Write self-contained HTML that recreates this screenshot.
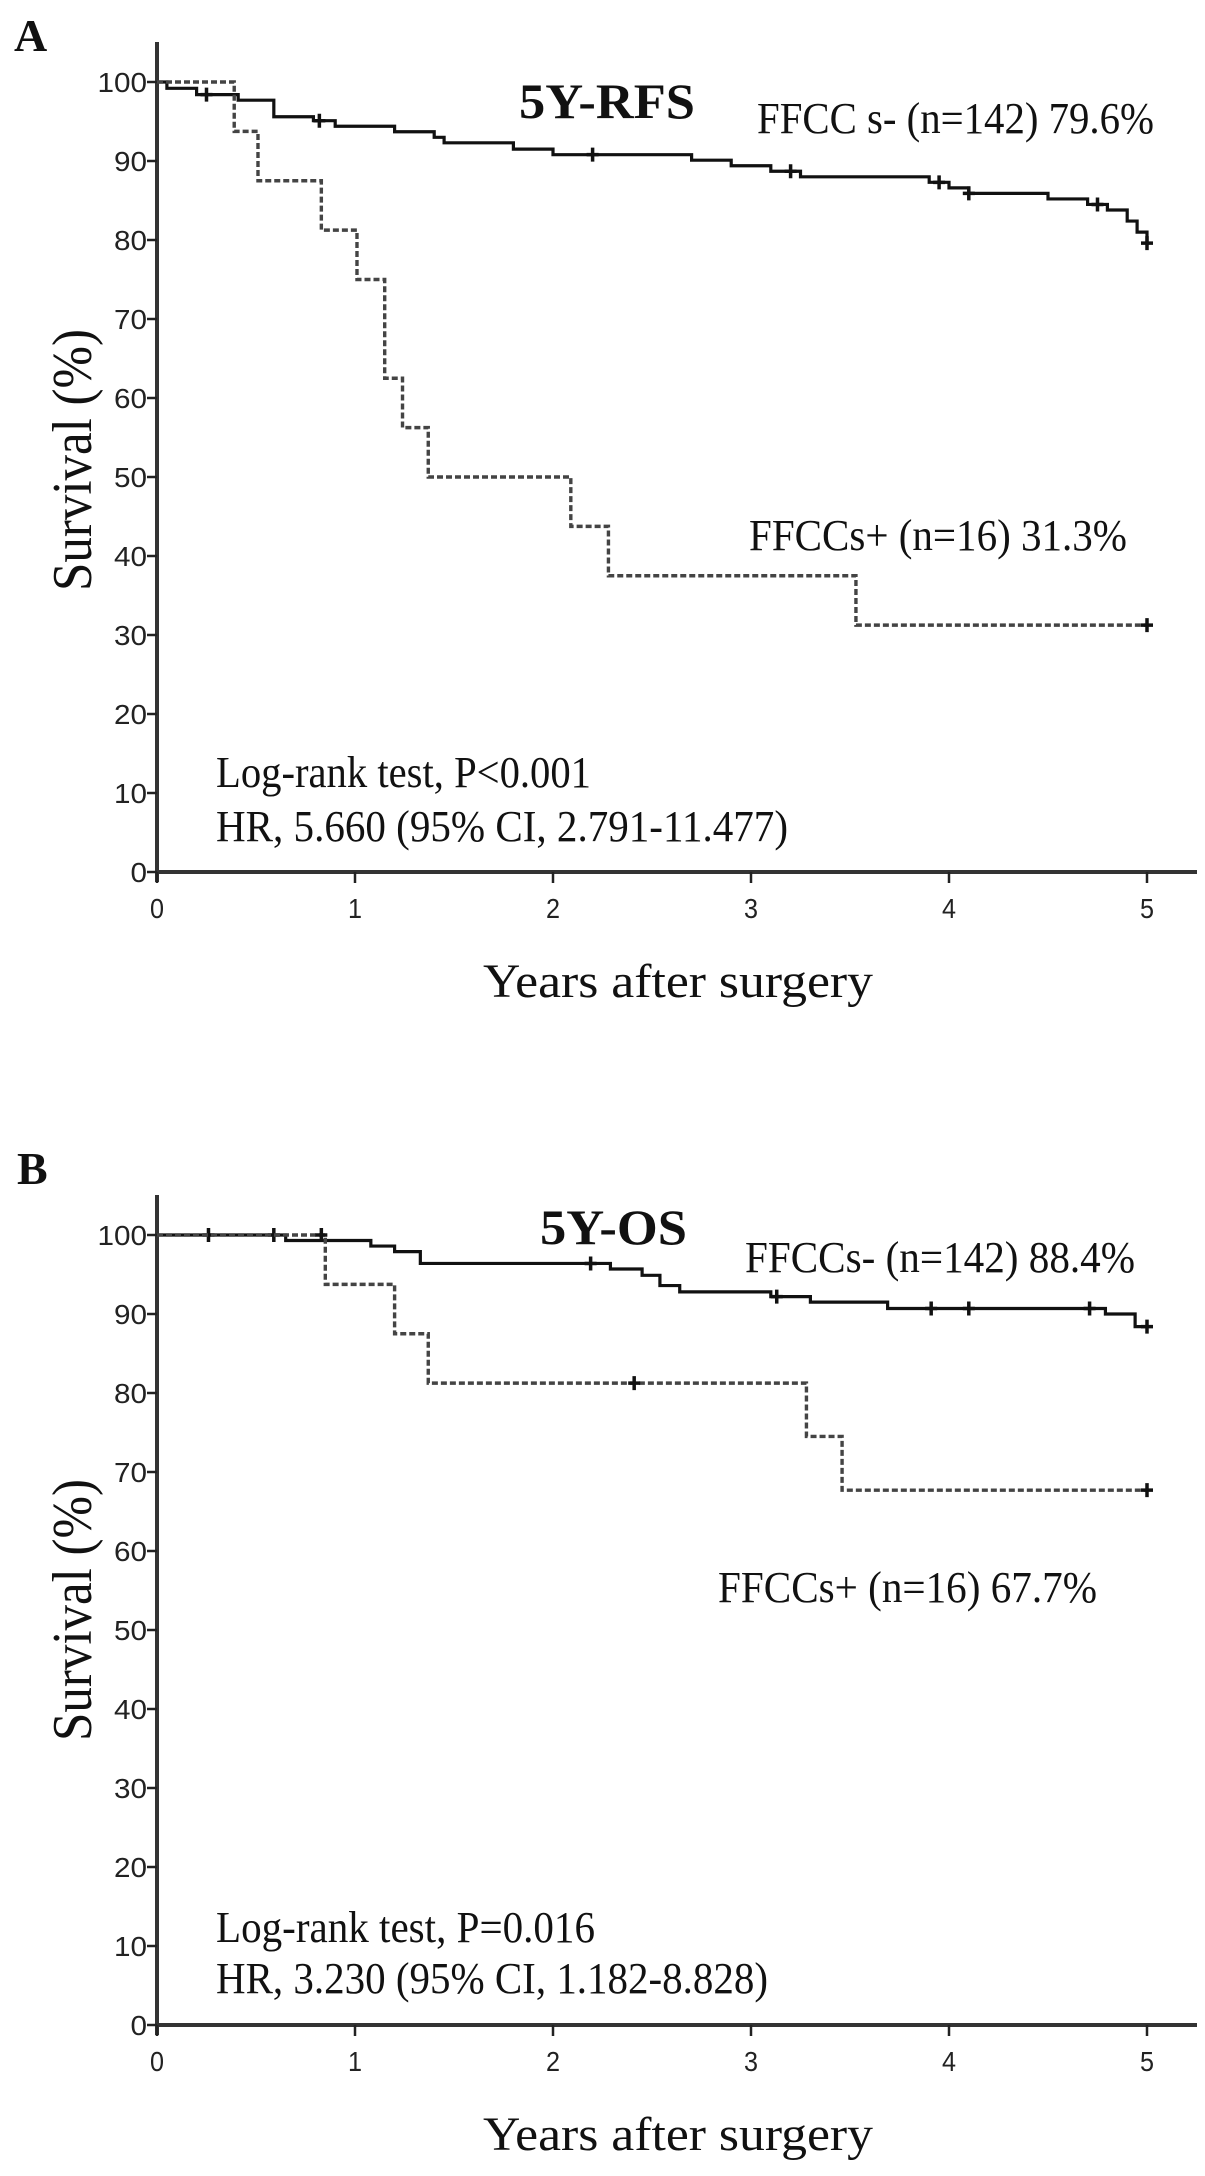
<!DOCTYPE html>
<html><head><meta charset="utf-8"><style>
html,body{margin:0;padding:0;background:#fff;}
svg{display:block;}
</style></head><body>
<svg id="fig" width="1205" height="2176" viewBox="0 0 1205 2176" xmlns="http://www.w3.org/2000/svg" font-family="'Liberation Serif', serif"></svg>
<script>
// Panel A data (RFS)
const xTicks = [0,1,2,3,4,5];
const yTicks = [0,10,20,30,40,50,60,70,80,90,100];
const aNegTimes = [0,0.05,0.2,0.41,0.59,0.79,0.9,1.2,1.4,1.45,1.8,2.0,2.7,2.9,3.1,3.25,3.9,4.0,4.1,4.5,4.7,4.8,4.9,4.95,5.0];
const aNegSurv  = [100,99.2,98.4,97.7,95.6,95.1,94.4,93.7,93.0,92.3,91.5,90.8,90.1,89.4,88.7,88.0,87.3,86.6,85.9,85.2,84.5,83.8,82.4,81.0,79.6];
const aNegCensor = [0.25,0.82,2.2,3.2,3.95,4.1,4.75,5.0];
const aPosTimes = [0,0.39,0.51,0.83,1.01,1.15,1.24,1.37,2.09,2.28,3.53,5.0];
const aPosSurv  = [100,93.75,87.5,81.25,75,62.5,56.25,50,43.75,37.5,31.25,31.25];
const aPosCensor = [5.0];
// Panel B data (OS)
const bNegTimes = [0,0.65,1.08,1.2,1.33,2.29,2.45,2.54,2.64,3.1,3.3,3.69,4.79,4.94,5.0];
const bNegSurv  = [100,99.3,98.6,97.9,96.4,95.7,94.9,93.6,92.8,92.2,91.5,90.7,90.0,88.4,88.4];
const bNegCensor = [0.26,0.59,2.19,3.13,3.91,4.1,4.71,5.0];
const bPosTimes = [0,0.85,1.2,1.37,3.28,3.46,5.0];
const bPosSurv  = [100,93.75,87.5,81.25,74.5,67.7,67.7];
const bPosCensor = [0.83,2.41,5.0];

const NS='http://www.w3.org/2000/svg';
const svg=document.getElementById('fig');
function mk(tag,attrs,parent){const e=document.createElementNS(NS,tag);for(const k in attrs)e.setAttribute(k,attrs[k]);(parent||svg).appendChild(e);return e;}
function txt(s,attrs,parent){const e=mk('text',attrs,parent);e.textContent=s;return e;}

function panel(cfg){
  const g=mk('g',{});
  
  
  const X0=157,X5=1147,Y0=cfg.y0,Y100=cfg.y100;
  const xs=t=>X0+(X5-X0)*t/5;
  const ys=v=>Y0+(Y100-Y0)*v/100;
  const ya=mk('line',{x1:X0,y1:cfg.axTop,x2:X0,y2:Y0+10,stroke:'#333','stroke-width':4},g);
  
  
  const xa=mk('line',{x1:X0-2,y1:Y0,x2:1197,y2:Y0,stroke:'#333','stroke-width':4},g);
  
  
  yTicks.forEach(v=>{
    mk('line',{x1:X0-10,y1:ys(v),x2:X0,y2:ys(v),stroke:'#222','stroke-width':2.5},g);
    const t=txt(String(v),{x:X0-10,y:ys(v)+10,'text-anchor':'end','font-family':"'Liberation Sans',sans-serif",'font-size':28,fill:'#222',textLength:String(v).length*16.5,lengthAdjust:'spacingAndGlyphs'},g);
    
    
  });
  xTicks.forEach(v=>{
    mk('line',{x1:xs(v),y1:Y0,x2:xs(v),y2:Y0+11,stroke:'#222','stroke-width':2.5},g);
    const t=txt(String(v),{x:xs(v),y:Y0+46,'text-anchor':'middle','font-family':"'Liberation Sans',sans-serif",'font-size':28,fill:'#222',textLength:14,lengthAdjust:'spacingAndGlyphs'},g);
    
    
  });
  function curve(times,surv,censor,dashed,name){
    let d='M'+xs(times[0])+','+ys(surv[0]);
    for(let i=1;i<times.length;i++){d+=' H'+xs(times[i])+' V'+ys(surv[i]);}
    const p=mk('path',{d:d,fill:'none',stroke:dashed?'#444':'#111','stroke-width':dashed?3.4:3.2,'stroke-dasharray':dashed?'6,3':'none'},g);
    
    
    censor.forEach(c=>{
      let v=surv[0];
      for(let i=0;i<times.length;i++){if(times[i]<=c)v=surv[i];}
      const m=mk('path',{d:`M${xs(c)},${ys(v)-7} V${ys(v)+7} M${xs(c)-6},${ys(v)} H${xs(c)+6}`,stroke:'#111','stroke-width':3.5},g);
      
      
    });
  }
  curve(cfg.negT,cfg.negS,cfg.negC,false,'curve-ffccs-negative');
  curve(cfg.posT,cfg.posS,cfg.posC,true,'curve-ffccs-positive');
  const L=txt(cfg.letter,{x:cfg.letterX,y:cfg.letterY,'font-size':46,'font-weight':'bold',fill:'#111'},g);
  
  
  const ti=txt(cfg.title,{x:cfg.titleX,y:cfg.titleY,'font-size':50,'font-weight':'bold',fill:'#111',textLength:cfg.titleW,lengthAdjust:'spacingAndGlyphs'},g);
  
  
  cfg.labels.forEach(l=>{
    const t=txt(l[0],{x:l[1],y:l[2],'font-size':44,fill:'#111',textLength:l[3],lengthAdjust:'spacingAndGlyphs'},g);
    
    
  });
  const yt=txt('Survival (%)',{x:0,y:0,'font-size':56,fill:'#111','text-anchor':'middle',textLength:262,lengthAdjust:'spacingAndGlyphs',transform:`translate(91,${cfg.yTitleY}) rotate(-90)`},g);
  
  
  const xt=txt('Years after surgery',{x:678,y:Y0+125,'font-size':48,fill:'#111','text-anchor':'middle',textLength:390,lengthAdjust:'spacingAndGlyphs'},g);
  
  
}

panel({name:'panel-a-rfs',y0:872,y100:82,axTop:42,letter:'A',letterX:14,letterY:51,
  title:'5Y-RFS',titleX:519,titleY:118,titleW:176,
  negT:aNegTimes,negS:aNegSurv,negC:aNegCensor,posT:aPosTimes,posS:aPosSurv,posC:aPosCensor,
  yTitleY:460,
  labels:[['FFCC s- (n=142) 79.6%',757,133,397,'legend-ffccs-negative'],
          ['FFCCs+ (n=16) 31.3%',749,550,378,'legend-ffccs-positive'],
          ['Log-rank test, P<0.001',216,787,375,'logrank-text'],
          ['HR, 5.660 (95% CI, 2.791-11.477)',216,841,572,'hazard-ratio-text']]});
panel({name:'panel-b-os',y0:2025,y100:1235,axTop:1195,letter:'B',letterX:17,letterY:1184,
  title:'5Y-OS',titleX:540,titleY:1244,titleW:147,
  negT:bNegTimes,negS:bNegSurv,negC:bNegCensor,posT:bPosTimes,posS:bPosSurv,posC:bPosCensor,
  yTitleY:1610,
  labels:[['FFCCs- (n=142) 88.4%',745,1272,390,'legend-ffccs-negative'],
          ['FFCCs+ (n=16) 67.7%',718,1602,379,'legend-ffccs-positive'],
          ['Log-rank test, P=0.016',216,1942,379,'logrank-text'],
          ['HR, 3.230 (95% CI, 1.182-8.828)',216,1993,552,'hazard-ratio-text']]});
</script>
</body></html>
